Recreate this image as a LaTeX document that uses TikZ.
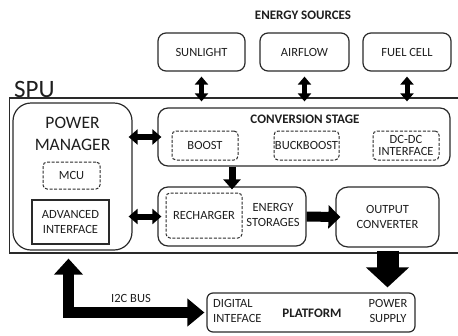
\documentclass[tikz,border=0pt]{standalone}
\usepackage{fontspec}
\setmainfont{Carlito}
\usetikzlibrary{arrows.meta}
\definecolor{ln}{HTML}{2A2A2A}
\definecolor{txt}{HTML}{1E1E1E}
\tikzset{
 box/.style={draw=ln, line width=1.2pt, rounded corners=#1, inner sep=0pt, align=center},
 box/.default=8pt,
 dbox/.style={draw=ln, line width=1pt, dash pattern=on 3pt off 1.6pt, rounded corners=4pt, inner sep=0pt, align=center},
 sbox/.style={draw=ln, line width=1.2pt, inner sep=0pt, align=center},
 lab/.style={inner sep=0pt, align=center},
 blab/.style={inner sep=0pt, align=center, font=\fontsize{13}{15}\selectfont\bfseries},
 varrow/.style={draw=black, line width=5pt, {Triangle[width=13pt,length=8pt]}-{Triangle[width=13pt,length=8pt]}},
 harrow/.style={draw=black, line width=6pt, {Triangle[width=15pt,length=9pt]}-{Triangle[width=15pt,length=9pt]}},
}
\begin{document}
\begin{tikzpicture}[x=1pt,y=-1pt,font=\fontsize{12.5}{15}\selectfont,text=txt]
\useasboundingbox (0,0) rectangle (458,335);
% energy sources
\node[blab] (es) at (303,15) {ENERGY SOURCES};
\node[box, minimum width=87pt, minimum height=38pt] (sun) at (201.5,52) {SUNLIGHT};
\node[box, minimum width=89pt, minimum height=38pt] (air) at (304.5,52) {AIRFLOW};
\node[box, minimum width=88pt, minimum height=38pt] (fuel) at (407,52) {FUEL CELL};
% SPU frame
\node[lab, anchor=base west, font=\fontsize{25}{30}\selectfont] (spu) at (14,97) {SPU};
\draw[ln, line width=1.2pt] (458,98) -- (9.5,98) -- (9.5,253) -- (458,253);
% power manager
\node[box=18pt, minimum width=119pt, minimum height=147pt] (pm) at (72.5,176.5) {};
\node[lab, font=\fontsize{17.5}{22}\selectfont] (pmt) at (72.5,134) {POWER\\MANAGER};
\node[dbox, minimum width=57pt, minimum height=27pt] (mcu) at (71.5,175.5) {MCU};
\node[sbox, minimum width=77pt, minimum height=44pt] (adv) at (70.5,222) {ADVANCED\\INTERFACE};
% conversion stage
\node[box=10pt, minimum width=292pt, minimum height=58pt] (conv) at (304,137) {};
\node[blab] (convt) at (305,119) {CONVERSION STAGE};
\node[dbox, minimum width=66pt, minimum height=29pt] (boost) at (205,145.5) {BOOST};
\node[dbox, minimum width=65pt, minimum height=29pt] (bb) at (306.5,145.5) {BUCKBOOST};
\node[dbox, minimum width=66pt, minimum height=29pt] (dcdc) at (406,145.5) {DC-DC\\[-3pt]INTERFACE};
% energy storages
\node[box=10pt, minimum width=148pt, minimum height=59pt] (st) at (232,216.5) {};
\node[dbox, minimum width=76pt, minimum height=45pt] (rech) at (204,215.5) {RECHARGER};
\node[lab] (stt) at (273,215) {ENERGY\\STORAGES};
\node[box=12pt, minimum width=103pt, minimum height=60pt] (out) at (387.5,217) {OUTPUT\\CONVERTER};
% platform
\node[box=6pt, minimum width=208pt, minimum height=39pt] (plat) at (311,312.5) {};
\node[lab, align=left, anchor=west] (dig) at (213,311) {DIGITAL\\INTEFACE};
\node[blab] (platt) at (312,313) {PLATFORM};
\node[lab] (ps) at (388,311) {POWER\\SUPPLY};
\node[lab] (i2c) at (131,298) {I2C BUS};
% arrows
\draw[varrow, shorten <=5pt, shorten >=6pt] (sun.south) -- (sun.south |- conv.north);
\draw[varrow, shorten <=5pt, shorten >=6pt] (air.south) -- (air.south |- conv.north);
\draw[varrow, shorten <=5pt, shorten >=6pt] (fuel.south) -- (fuel.south |- conv.north);
\draw[harrow, shorten <=-4pt, shorten >=-4pt] (conv.west -| pm.east) -- (conv.west);
\draw[harrow, shorten <=-4pt, shorten >=-4pt] (st.west -| pm.east) -- (st.west);
\draw[draw=black, line width=7pt, -{Triangle[width=17pt,length=10pt]}, shorten >=-3pt] (st.north |- conv.south) -- (st.north);
\draw[draw=black, line width=10pt, -{Triangle[width=23pt,length=12pt]}, shorten >=-5pt] (st.east) -- (out.west);
\draw[draw=black, line width=22pt, -{Triangle[width=42pt,length=20pt]}, shorten <=3pt, shorten >=5pt] (out.south) -- (out.south |- plat.north);
\draw[draw=black, line width=11pt, line join=miter, {Triangle[width=28pt,length=16pt]}-{Triangle[width=27pt,length=17pt]}, shorten >=2pt] ([xshift=-4pt,yshift=-8pt]pm.south) |- (plat.west);
\end{tikzpicture}
\end{document}
